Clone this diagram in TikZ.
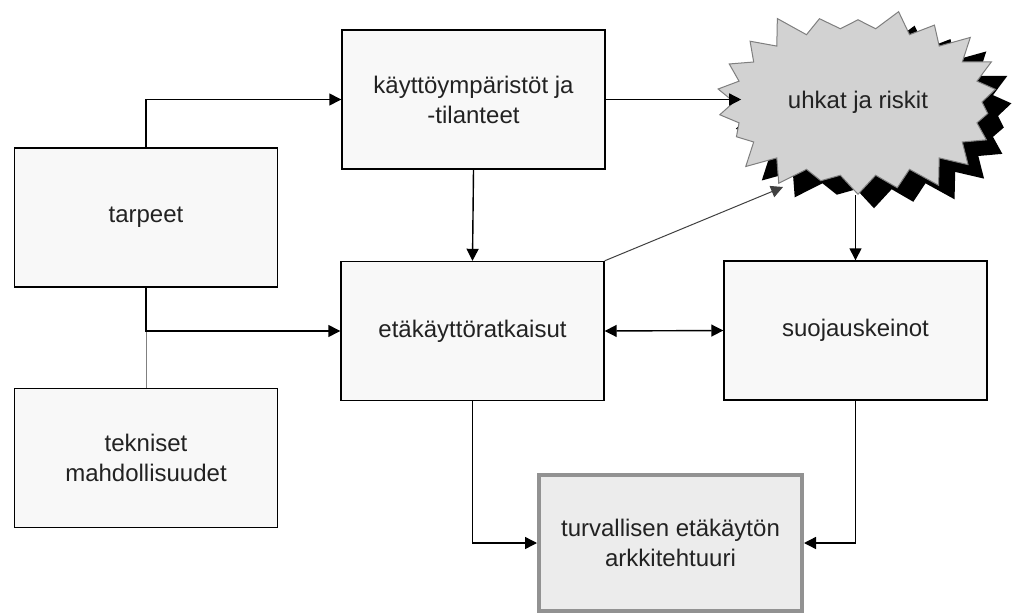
\documentclass[tikz,border=0pt]{standalone}
\usepackage{fontspec}
\setmainfont{Liberation Sans}
\usetikzlibrary{arrows.meta,shapes.symbols,shadows}

\definecolor{boxfill}{HTML}{F8F8F8}
\definecolor{burstfill}{HTML}{D2D2D2}
\definecolor{burstline}{HTML}{7F7F7F}
\definecolor{resultfill}{HTML}{ECECEC}
\definecolor{resultline}{HTML}{929292}
\definecolor{txt}{HTML}{222222}

\begin{document}
\begin{tikzpicture}[
    x=0.5pt, y=-0.5pt,
    box/.style={rectangle, draw=black, fill=boxfill, line width=0.7pt,
        minimum width=131.5pt, minimum height=69.5pt, align=center,
        text=txt, font=\fontsize{12}{15}\selectfont},
    result/.style={box, draw=resultline, fill=resultfill, line width=2pt,
        minimum height=68pt},
    burst/.style={starburst, starburst points=22, starburst point height=13pt,
        random starburst=3, draw=burstline, fill=burstfill, line width=0.5pt,
        minimum width=150pt, minimum height=100pt, text=txt,
        font=\fontsize{12}{15}\selectfont,
        drop shadow={shadow xshift=8pt, shadow yshift=-7pt, fill=black, opacity=1}},
    -{Triangle[length=6pt,width=6pt]}, line width=0.7pt
]
\useasboundingbox (0,0) rectangle (1029,615);

% Left column
\node[box] (tarpeet) at (146,217.5) {tarpeet};
\node[box] (tekniset) at (146,458) {tekniset\\mahdollisuudet};

% Middle column
\node[box] (kaytto) at (473.5,99.5) {käyttöympäristöt ja\\-tilanteet};
\node[box] (etakaytto) at (472.5,331) {etäkäyttöratkaisut};

% Right column
\node[burst] (uhkat) at (858,102) {uhkat ja riskit};
\node[box] (suojaus) at (855.5,330.5) {suojauskeinot};
\coordinate (uhkatin) at (783,187);

% Result
\node[result] (arkkitehtuuri) at (670.5,543) {turvallisen etäkäytön\\arkkitehtuuri};

% Connections from the left column
\draw[-, draw=gray, line width=0.5pt] (tekniset.north) -- (tarpeet.south);
\draw (tarpeet.north) |- (kaytto.west);
\draw (tarpeet.south) |- (etakaytto.west);

% Connections in the middle
\draw (kaytto.south) -- (etakaytto.north);
\draw (kaytto.east) -- ([xshift=4pt]kaytto.east -| uhkat.west);
\draw[draw=darkgray, line width=0.5pt] (etakaytto.north east) -- (uhkatin);
\draw (uhkat.south -| suojaus.north) -- (suojaus.north);
\draw[{Triangle[length=6pt,width=6pt]}-{Triangle[length=6pt,width=6pt]}] (etakaytto.east) -- (suojaus.west);

% Connections to the result
\draw (etakaytto.south) |- (arkkitehtuuri.west);
\draw (suojaus.south) |- (arkkitehtuuri.east);

\end{tikzpicture}
\end{document}
